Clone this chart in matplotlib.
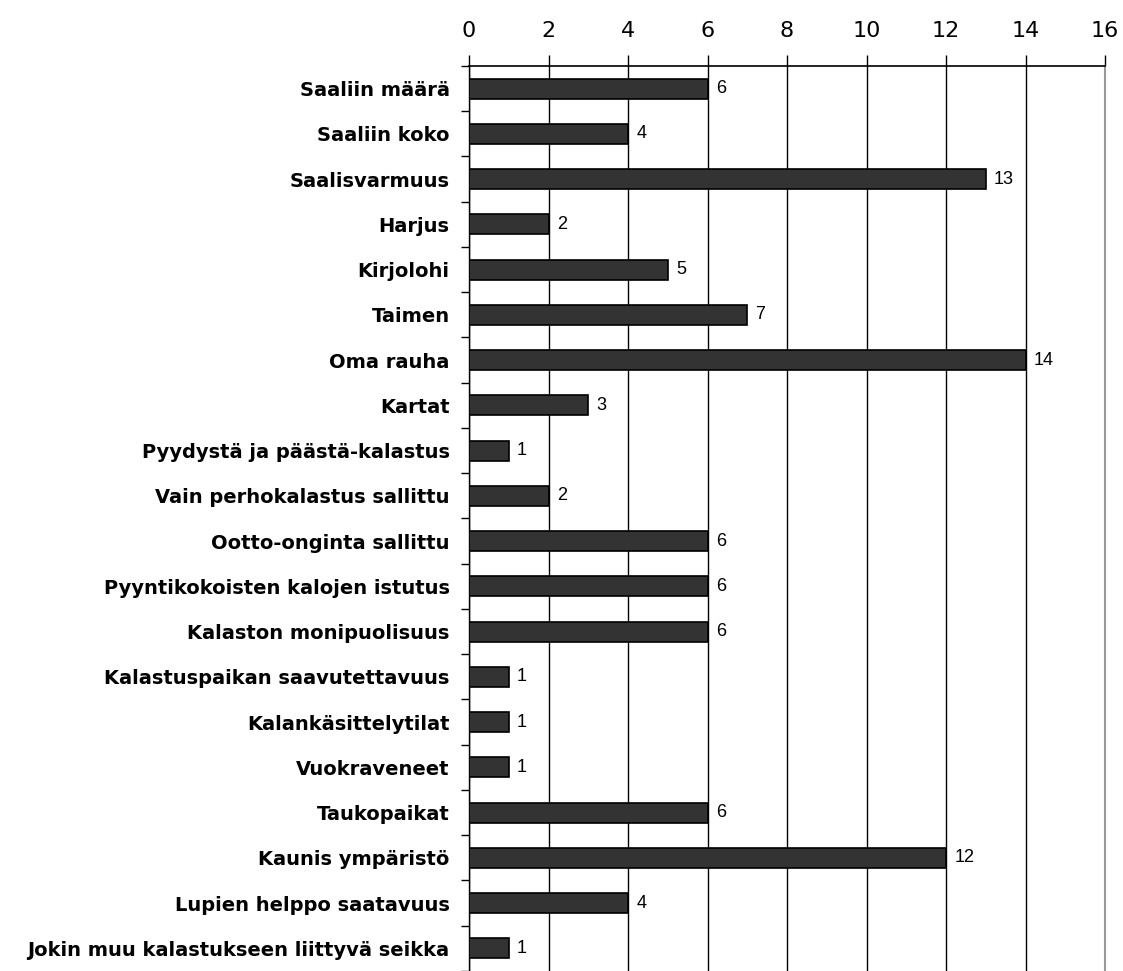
import matplotlib.pyplot as plt
import numpy as np

categories = [
    "Saaliin määrä",
    "Saaliin koko",
    "Saalisvarmuus",
    "Harjus",
    "Kirjolohi",
    "Taimen",
    "Oma rauha",
    "Kartat",
    "Pyydystä ja päästä-kalastus",
    "Vain perhokalastus sallittu",
    "Ootto-onginta sallittu",
    "Pyyntikokoisten kalojen istutus",
    "Kalaston monipuolisuus",
    "Kalastuspaikan saavutettavuus",
    "Kalankäsittelytilat",
    "Vuokraveneet",
    "Taukopaikat",
    "Kaunis ympäristö",
    "Lupien helppo saatavuus",
    "Jokin muu kalastukseen liittyvä seikka",
]
values = [6, 4, 13, 2, 5, 7, 14, 3, 1, 2, 6, 6, 6, 1, 1, 1, 6, 12, 4, 1]
xticks = [0, 2, 4, 6, 8, 10, 12, 14, 16]

fig = plt.figure(figsize=(11.23, 9.71), dpi=100)
ax = fig.add_axes([469 / 1123, 0.0, (1105 - 469) / 1123, 1 - 66 / 971])

y = np.arange(len(categories))
ax.barh(y, values, height=0.44, color="#333333", edgecolor="black", linewidth=1.2, zorder=3)

# value labels to the right of each bar
for yi, v in zip(y, values):
    ax.annotate(str(v), (v, yi), xytext=(6, 0), textcoords="offset points",
                va="center", ha="left", fontsize=13, family="Liberation Sans")

ax.set_xlim(0, 16)
ax.set_ylim(19.39, -0.5)

ax.xaxis.tick_top()
ax.set_xticks(xticks)
ax.set_xticklabels([str(t) for t in xticks], fontsize=16)
ax.tick_params(axis="x", direction="out", length=8, width=1, pad=10)
ax.grid(axis="x", color="black", linewidth=1, zorder=0)

ax.set_yticks(y)
ax.set_yticklabels(categories, fontsize=14, fontweight="bold")
ax.tick_params(axis="y", length=0, pad=14)
ax.set_yticks(np.arange(-0.5, len(categories)), minor=True)
ax.tick_params(axis="y", which="minor", length=6, width=1, direction="out")

ax.spines["top"].set_linewidth(1.2)
ax.spines["left"].set_linewidth(1)
ax.spines["bottom"].set_visible(False)
ax.spines["right"].set_color("#999999")
ax.spines["right"].set_linewidth(1.5)

fig.savefig("out.png", dpi=100)
